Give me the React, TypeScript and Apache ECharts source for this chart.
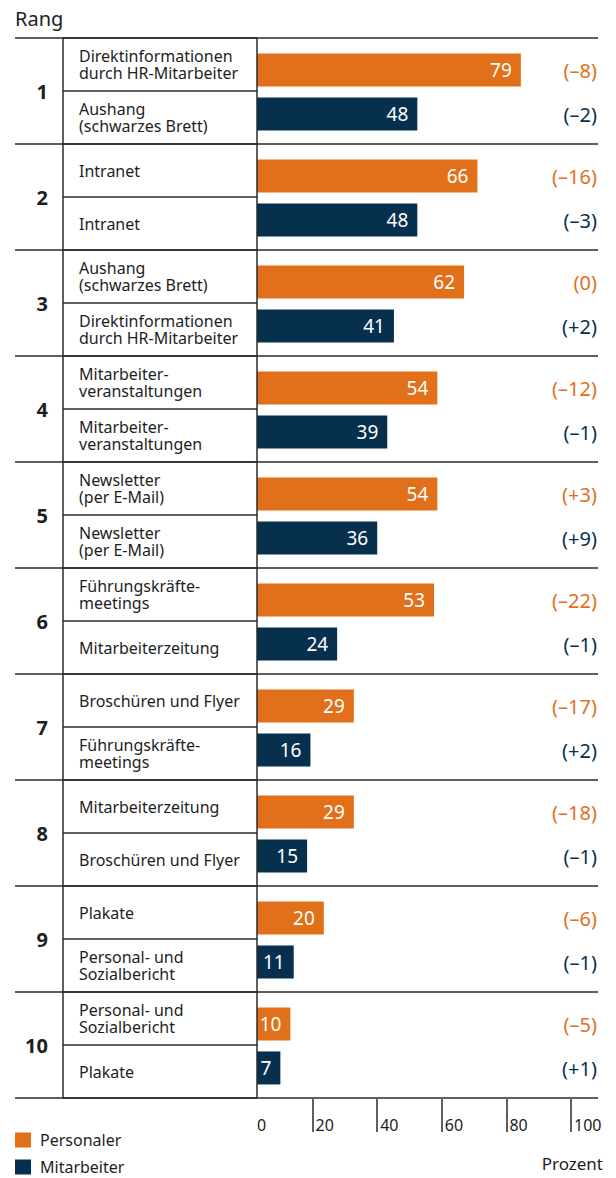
import React, { useEffect, useRef } from "react";
import * as echarts from "echarts";

const FONT = "'Noto Sans', sans-serif";
const ORANGE = "#e2701a";
const NAVY = "#07304f";
const INK = "#1e1e1e";
const RULE = "#2a2a2a";

const ranks = ["1", "2", "3", "4", "5", "6", "7", "8", "9", "10"];
const personalerNames = [
  "Direktinformationen\ndurch HR-Mitarbeiter",
  "Intranet",
  "Aushang\n(schwarzes Brett)",
  "Mitarbeiter-\nveranstaltungen",
  "Newsletter\n(per E-Mail)",
  "Führungskräfte-\nmeetings",
  "Broschüren und Flyer",
  "Mitarbeiterzeitung",
  "Plakate",
  "Personal- und\nSozialbericht",
];
const mitarbeiterNames = [
  "Aushang\n(schwarzes Brett)",
  "Intranet",
  "Direktinformationen\ndurch HR-Mitarbeiter",
  "Mitarbeiter-\nveranstaltungen",
  "Newsletter\n(per E-Mail)",
  "Mitarbeiterzeitung",
  "Führungskräfte-\nmeetings",
  "Broschüren und Flyer",
  "Personal- und\nSozialbericht",
  "Plakate",
];
const personalerValues = [79, 66, 62, 54, 54, 53, 29, 29, 20, 10];
const mitarbeiterValues = [48, 48, 41, 39, 36, 24, 16, 15, 11, 7];
const personalerChange = ["–8", "–16", "0", "–12", "+3", "–22", "–17", "–18", "–6", "–5"];
const mitarbeiterChange = ["–2", "–3", "+2", "–1", "+9", "–1", "+2", "–1", "–1", "+1"];
const scaleTicks = [20, 40, 60, 80, 100];
const scaleLabels = [0, 20, 40, 60, 80, 100];

const names: string[] = [];
ranks.forEach((_, i) => {
  names.push(personalerNames[i], mitarbeiterNames[i]);
});

export default function App() {
  const ref = useRef<HTMLDivElement>(null);
  useEffect(() => {
    document.body.style.margin = "0";
    const chart = echarts.init(ref.current!, null, { renderer: "svg" });
    const ruleStyle = { color: RULE, width: 1.5 };
    const legendBase = {
      orient: "vertical",
      left: 15,
      itemWidth: 16,
      itemHeight: 15,
      icon: "rect",
      padding: 0,
      textStyle: { fontSize: 16, color: INK, fontFamily: FONT, padding: [0, 0, 0, 4] },
    };
    const option: any = {
      animation: false,
      textStyle: { fontFamily: FONT },
      grid: [
        { left: 15, right: 18, top: 38, height: 1060 },
        { left: 63, width: 194, top: 38, height: 1060 },
        { left: 257, width: 334, top: 39, height: 1060 },
        { left: 248, width: 323, top: 1098, height: 1 },
      ],
      xAxis: [
        { gridIndex: 0, type: "value", min: 0, max: 1, show: false },
        { gridIndex: 1, type: "value", min: 0, max: 1, show: false },
        { gridIndex: 2, type: "value", min: 0, max: 100, show: false },
        {
          gridIndex: 3,
          type: "value",
          min: 0,
          max: 100,
          interval: 20,
          axisLine: { show: false },
          splitLine: { show: false },
          axisTick: { show: true, customValues: scaleTicks, length: 33, lineStyle: ruleStyle },
          axisLabel: {
            customValues: scaleLabels,
            margin: 18,
            align: "left",
            padding: [0, 0, 0, 3],
            fontSize: 16,
            color: INK,
            fontFamily: FONT,
            formatter: (v: number) => (v === 0 ? "{z|0}" : String(v)),
            rich: { z: { padding: [0, 0, 0, 6], fontSize: 16, color: INK, fontFamily: FONT } },
          },
        },
      ],
      yAxis: [
        {
          gridIndex: 0,
          type: "category",
          data: ranks,
          inverse: true,
          axisLine: { show: false },
          axisTick: { show: false },
          splitLine: { show: true, lineStyle: ruleStyle },
          axisLabel: {
            interval: 0,
            margin: -33,
            align: "right",
            fontSize: 20,
            fontWeight: "bold",
            color: INK,
            fontFamily: FONT,
          },
        },
        {
          gridIndex: 1,
          type: "category",
          data: names,
          inverse: true,
          axisLine: { show: true, lineStyle: ruleStyle },
          axisTick: { show: false },
          splitLine: { show: true, lineStyle: ruleStyle },
          axisLabel: {
            interval: 0,
            margin: -16,
            align: "left",
            fontSize: 16,
            lineHeight: 17,
            color: INK,
            fontFamily: FONT,
          },
        },
        {
          gridIndex: 2,
          type: "category",
          data: ranks,
          inverse: true,
          axisLine: { show: false },
          axisTick: { show: false },
          axisLabel: { show: false },
          splitLine: { show: false },
        },
        {
          gridIndex: 2,
          type: "category",
          data: ranks,
          inverse: true,
          position: "right",
          axisLine: { show: false },
          axisTick: { show: false },
          splitLine: { show: false },
          axisLabel: {
            interval: 0,
            margin: 6,
            align: "right",
            fontFamily: FONT,
            formatter: (_v: string, i: number) =>
              `{o|(${personalerChange[i]})}\n{b|(${mitarbeiterChange[i]})}`,
            rich: {
              o: { color: ORANGE, fontSize: 20, lineHeight: 44, align: "right", fontFamily: FONT },
              b: { color: NAVY, fontSize: 20, lineHeight: 44, align: "right", fontFamily: FONT },
            },
          },
        },
        { gridIndex: 3, type: "value", min: 0, max: 1, show: false },
      ],
      legend: [
        { ...legendBase, data: ["Personaler"], top: 1132 },
        { ...legendBase, data: ["Mitarbeiter"], top: 1159 },
      ],
      graphic: [
        {
          type: "text",
          left: 15,
          top: 8,
          style: { text: "Rang", fontSize: 20, fill: INK, fontFamily: FONT },
        },
        {
          type: "text",
          right: 13,
          top: 1155,
          style: { text: "Prozent", fontSize: 17, fill: INK, fontFamily: FONT },
        },
        {
          type: "line",
          shape: { x1: 257, y1: 38, x2: 257, y2: 1098 },
          style: { stroke: RULE, lineWidth: 1.5 },
          z: 10,
        },
      ],
      series: [
        {
          type: "bar",
          name: "Personaler",
          xAxisIndex: 2,
          yAxisIndex: 2,
          data: personalerValues,
          barWidth: 33,
          barGap: "33%",
          itemStyle: { color: ORANGE },
          label: {
            show: true,
            position: "insideRight",
            distance: 9,
            color: "#fff",
            fontSize: 19,
            fontFamily: FONT,
          },
        },
        {
          type: "bar",
          name: "Mitarbeiter",
          xAxisIndex: 2,
          yAxisIndex: 2,
          data: mitarbeiterValues,
          barWidth: 33,
          barGap: "33%",
          itemStyle: { color: NAVY },
          label: {
            show: true,
            position: "insideRight",
            distance: 9,
            color: "#fff",
            fontSize: 19,
            fontFamily: FONT,
          },
        },
      ],
    };
    chart.setOption(option);
    return () => chart.dispose();
  }, []);
  return <div ref={ref} style={{ width: 616, height: 1178 }} />;
}
